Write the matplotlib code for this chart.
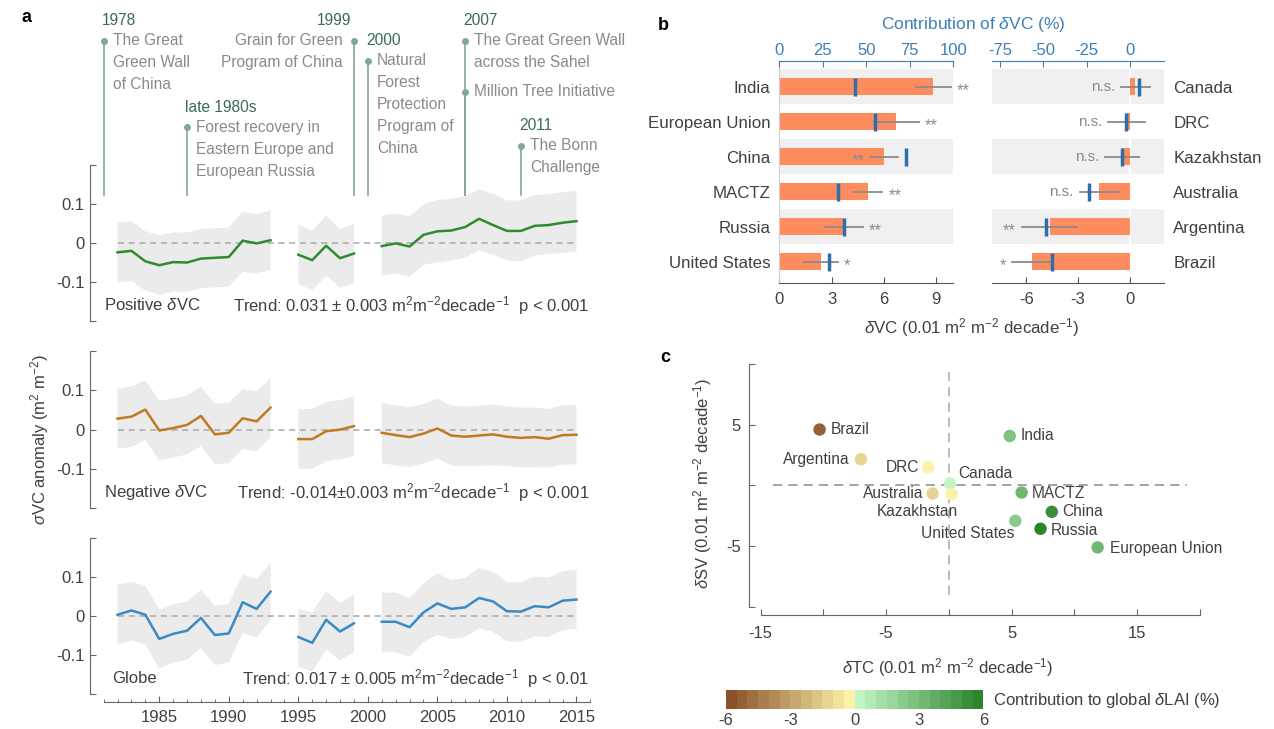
import numpy as np
import matplotlib
matplotlib.use('Agg')
import matplotlib.pyplot as plt
from matplotlib.colors import ListedColormap, BoundaryNorm, to_rgb
from matplotlib.cm import ScalarMappable
from matplotlib.ticker import MultipleLocator

plt.rcParams['font.family'] = ['Liberation Sans', 'DejaVu Sans']
plt.rcParams['mathtext.fontset'] = 'custom'
plt.rcParams['mathtext.rm'] = 'Liberation Sans'
plt.rcParams['mathtext.it'] = 'Liberation Sans:italic'
plt.rcParams['mathtext.bf'] = 'Liberation Sans:bold'
plt.rcParams['mathtext.sf'] = 'Liberation Sans'
plt.rcParams['axes.unicode_minus'] = False

nan = np.nan

# ---------------- data: panel a ----------------
years = [1982, 1983, 1984, 1985, 1986, 1987, 1988, 1989, 1990, 1991, 1992, 1993, 1994,
         1995, 1996, 1997, 1998, 1999, 2000, 2001, 2002, 2003, 2004, 2005, 2006, 2007,
         2008, 2009, 2010, 2011, 2012, 2013, 2014, 2015]

pos_vc = [-0.024, -0.020, -0.047, -0.057, -0.049, -0.050, -0.040, -0.038, -0.036, 0.006, -0.001, 0.007, nan,
          -0.030, -0.044, -0.007, -0.039, -0.027, nan, -0.008, -0.001, -0.009, 0.021, 0.030, 0.032, 0.041,
          0.062, 0.046, 0.031, 0.031, 0.044, 0.046, 0.052, 0.056]
pos_hi = [0.053, 0.056, 0.030, 0.020, 0.027, 0.027, 0.036, 0.038, 0.040, 0.080, 0.074, 0.083, nan,
          0.047, 0.032, 0.070, 0.036, 0.049, nan, 0.070, 0.076, 0.068, 0.100, 0.110, 0.113, 0.120,
          0.138, 0.126, 0.109, 0.109, 0.123, 0.126, 0.130, 0.134]
pos_lo = [-0.101, -0.097, -0.122, -0.132, -0.125, -0.125, -0.116, -0.114, -0.112, -0.074, -0.078, -0.069, nan,
          -0.105, -0.121, -0.084, -0.115, -0.103, nan, -0.084, -0.078, -0.086, -0.056, -0.050, -0.045, -0.038,
          -0.018, -0.030, -0.045, -0.047, -0.032, -0.028, -0.026, -0.022]

neg_vc = [0.028, 0.033, 0.051, -0.002, 0.004, 0.012, 0.035, -0.012, -0.008, 0.029, 0.021, 0.056, nan,
          -0.024, -0.024, -0.004, 0.000, 0.009, nan, -0.008, -0.014, -0.019, -0.010, 0.003, -0.015, -0.018,
          -0.015, -0.012, -0.018, -0.021, -0.019, -0.023, -0.014, -0.013]
neg_hi = [0.104, 0.110, 0.126, 0.074, 0.079, 0.087, 0.109, 0.066, 0.069, 0.103, 0.097, 0.131, nan,
          0.052, 0.053, 0.071, 0.075, 0.085, nan, 0.068, 0.062, 0.057, 0.065, 0.079, 0.061, 0.059,
          0.061, 0.064, 0.059, 0.056, 0.056, 0.053, 0.062, 0.063]
neg_lo = [-0.048, -0.044, -0.025, -0.078, -0.071, -0.063, -0.042, -0.088, -0.085, -0.049, -0.055, -0.020, nan,
          -0.100, -0.100, -0.080, -0.075, -0.067, nan, -0.085, -0.091, -0.095, -0.086, -0.074, -0.091, -0.093,
          -0.092, -0.090, -0.093, -0.096, -0.096, -0.097, -0.089, -0.088]

glob_vc = [0.004, 0.015, 0.004, -0.058, -0.045, -0.037, -0.004, -0.048, -0.044, 0.036, 0.019, 0.063, nan,
           -0.053, -0.068, -0.009, -0.039, -0.018, nan, -0.014, -0.014, -0.028, 0.010, 0.033, 0.019, 0.023,
           0.047, 0.038, 0.013, 0.012, 0.026, 0.023, 0.040, 0.043]
glob_hi = [0.081, 0.088, 0.079, 0.017, 0.031, 0.038, 0.068, 0.027, 0.032, 0.108, 0.095, 0.137, nan,
           0.020, 0.010, 0.065, 0.034, 0.057, nan, 0.061, 0.061, 0.047, 0.085, 0.110, 0.093, 0.099,
           0.124, 0.114, 0.088, 0.087, 0.102, 0.099, 0.116, 0.120]
glob_lo = [-0.072, -0.062, -0.072, -0.134, -0.119, -0.112, -0.081, -0.125, -0.119, -0.042, -0.055, -0.010, nan,
           -0.129, -0.142, -0.086, -0.113, -0.092, nan, -0.092, -0.092, -0.104, -0.066, -0.047, -0.058, -0.053,
           -0.031, -0.040, -0.064, -0.065, -0.051, -0.053, -0.036, -0.032]

series_names = ['Positive $\\delta$VC', 'Negative $\\delta$VC', 'Globe']
trend_texts = ['Trend: 0.031 $\\pm$ 0.003 m$^2$m$^{-2}$decade$^{-1}$  p < 0.001',
               'Trend: -0.014$\\pm$0.003 m$^2$m$^{-2}$decade$^{-1}$  p < 0.001',
               'Trend: 0.017 $\\pm$ 0.005 m$^2$m$^{-2}$decade$^{-1}$  p < 0.01']

# timeline of programmes
event_x = [1981, 1987, 1999, 2000, 2007, 2007, 2011]
event_year = ['1978', 'late 1980s', '1999', '2000', '2007', '', '2011']
event_text = [['The Great', 'Green Wall', 'of China'],
              ['Forest recovery in', 'Eastern Europe and', 'European Russia'],
              ['Grain for Green', 'Program of China'],
              ['Natural', 'Forest', 'Protection', 'Program of', 'China'],
              ['The Great Green Wall', 'across the Sahel'],
              ['Million Tree Initiative'],
              ['The Bonn', 'Challenge']]

# ---------------- data: panel b ----------------
b_left_names = ['India', 'European Union', 'China', 'MACTZ', 'Russia', 'United States']
b_left_vc = [8.86, 6.73, 6.04, 5.11, 3.70, 2.38]
b_left_err = [0.98, 1.30, 0.80, 0.82, 1.09, 0.98]
b_left_pct = [43.7, 55.2, 72.6, 33.5, 37.2, 28.7]
b_left_sig = ['**', '**', '**', '**', '**', '*']
b_left_sig_side = ['r', 'r', 'l', 'r', 'r', 'r']

b_right_names = ['Canada', 'DRC', 'Kazakhstan', 'Australia', 'Argentina', 'Brazil']
b_right_vc = [0.33, -0.19, -0.44, -1.77, -4.65, -5.67]
b_right_err = [0.82, 1.08, 0.98, 1.13, 1.59, 1.15]
b_right_pct = [5.2, -2.3, -4.6, -23.5, -48.6, -44.8]
b_right_sig = ['n.s.', 'n.s.', 'n.s.', 'n.s.', '**', '*']
b_right_sig_side = ['l', 'l', 'l', 'l', 'l', 'l']

# ---------------- data: panel c ----------------
c_names = ['Brazil', 'Argentina', 'DRC', 'Canada', 'Australia', 'Kazakhstan',
           'India', 'MACTZ', 'China', 'United States', 'Russia', 'European Union']
c_tc = [-10.3, -7.0, -1.65, 0.08, -1.3, 0.22, 4.85, 5.8, 8.2, 5.3, 7.3, 11.85]
c_sv = [4.6, 2.15, 1.47, 0.15, -0.67, -0.73, 4.07, -0.59, -2.18, -2.92, -3.58, -5.11]
c_lai = [-5.2, -1.3, -0.3, 0.2, -1.3, -0.2, 2.6, 3.2, 5.0, 2.0, 5.8, 3.2]
# label placement (pixel offsets, alignment)
c_lab_off = [(11, 0), (-11, 0), (-9, 0), (8, 10), (-9, 0), (-34, -17),
             (11, 0), (10, -1), (10, 0), (-48, -13), (10, -2), (12, -1)]
c_lab_ha = ['left', 'right', 'right', 'left', 'right', 'center',
            'left', 'left', 'left', 'center', 'left', 'left']

# ---------------- figure ----------------
W, H = 1274, 729
fig = plt.figure(figsize=(W / 100, H / 100), dpi=100)


def px_axes(x0, y0, x1, y1):
    return fig.add_axes([x0 / W, 1 - y1 / H, (x1 - x0) / W, (y1 - y0) / H])


txt_c = '#404040'
spine_c = '#666666'
band_c = '#ebebeb'

# ---- panel a ----
vals = [(pos_vc, pos_lo, pos_hi, '#2e8b2e'),
        (neg_vc, neg_lo, neg_hi, '#c17a1f'),
        (glob_vc, glob_lo, glob_hi, '#3a8ac6')]
a_rows = [(165, 321), (351, 508.3), (538.3, 694.3)]
name_x = [1981.05, 1981.05, 1981.6]
for k, (vc, lo, hi, col) in enumerate(vals):
    ax = px_axes(103.6, a_rows[k][0], 590.4, a_rows[k][1])
    ax.set_xlim(1981, 2016)
    ax.set_ylim(-0.2, 0.2)
    ax.fill_between(years, lo, hi, color=band_c, lw=0)
    ax.plot([years[0], years[-1]], [0, 0], color='#a8a8a8', lw=1.1, dashes=(4, 3))
    ax.plot(years, vc, color=col, lw=1.8)
    ax.spines['top'].set_visible(False)
    ax.spines['right'].set_visible(False)
    ax.spines['left'].set_position(('outward', 9.5))
    ax.spines['left'].set_color(spine_c)
    ax.set_yticks([-0.2, -0.1, 0, 0.1, 0.2])
    ax.set_yticklabels(['', '-0.1', '0', '0.1', ''])
    ax.tick_params(axis='y', direction='in', length=4, color=spine_c,
                   labelsize=12, labelcolor=txt_c, pad=4)
    ax.text(name_x[k], -0.16, series_names[k], fontsize=12, color=txt_c, va='center')
    ax.text(2015.9, -0.16, trend_texts[k], fontsize=12, color=txt_c, va='center', ha='right')
    if k < 2:
        ax.spines['bottom'].set_visible(False)
        ax.tick_params(axis='x', which='both', bottom=False, labelbottom=False)
    else:
        ax.spines['bottom'].set_position(('outward', 5.3))
        ax.spines['bottom'].set_color(spine_c)
        ax.set_xticks([1985, 1990, 1995, 2000, 2005, 2010, 2015])
        ax.xaxis.set_minor_locator(MultipleLocator(1))
        ax.tick_params(axis='x', which='major', direction='in', length=4, color=spine_c,
                       labelsize=12, labelcolor=txt_c, pad=6)
        ax.tick_params(axis='x', which='minor', direction='in', length=2, color=spine_c)

fig.text(40 / W, 1 - 440 / H, '$\\sigma$VC anomaly (m$^2$ m$^{-2}$)', rotation=90,
         ha='center', va='center', fontsize=12, color=txt_c)

# timeline overlay
axt = px_axes(103.6, 0, 590.4, 195)
axt.set_xlim(1981, 2016)
axt.set_ylim(195, 0)
axt.axis('off')
ev_label_y = [20.7, 107.3, 20.7, 40.7, 20.7, None, 126]
ev_dot_y = [40.7, 127.3, 40.7, 60.7, 40.7, 91.7, 146]
ev_side = ['r', 'r', 'l', 'r', 'r', 'r', 'r']
line_c = '#7fa89a'
for x, yr, lines, ly, dy, side in zip(event_x, event_year, event_text, ev_label_y, ev_dot_y, ev_side):
    axt.plot([x, x], [dy, 195], color=line_c, lw=1.2, clip_on=False)
    axt.plot([x], [dy], 'o', color=line_c, ms=4, clip_on=False)
    if yr:
        axt.annotate(yr, (x, ly), xytext=(-2 if side == 'r' else -3, 0), textcoords='offset pixels',
                     ha='left' if side == 'r' else 'right', va='center', fontsize=11.2,
                     color='#3b6a58', annotation_clip=False)
    for j, line in enumerate(lines):
        axt.annotate(line, (x, dy + j * 21.9), xytext=(9 if side == 'r' else -11, 0),
                     textcoords='offset pixels', ha='left' if side == 'r' else 'right',
                     va='center', fontsize=11.2, color='#8a8a8a', annotation_clip=False)

# ---- panel b ----
bar_c = '#ff8c5e'
mark_c = '#2f6ea8'
top_c = '#3f7fb6'
err_c = '#8a8a8a'


def draw_b(box, names, vc, err, pct, sig, side, xlim, top_xlim, xticks, top_ticks, right):
    ax = px_axes(*box)
    rows = list(range(len(names)))
    ax.set_xlim(*xlim)
    ax.set_ylim(5.62, -0.74)
    for r in rows[::2]:
        ax.axhspan(r - 0.5, r + 0.5, color='#f0f0f0', lw=0, zorder=0.5)
    if right:
        ax.axvline(0, color='white', lw=1.5, zorder=1)
    ax.barh(rows, vc, height=0.5, color=bar_c, zorder=2)
    for r, v, e, s, sd in zip(rows, vc, err, sig, side):
        ax.plot([v - e, v + e], [r, r], color=err_c, lw=1.3, zorder=3)
        dy = -4 if '*' in s else 0
        fs = 12 if '*' in s else 11
        if sd == 'r':
            ax.annotate(s, (v + e, r), xytext=(6, dy), textcoords='offset pixels',
                        ha='left', va='center', color=err_c, fontsize=fs, zorder=4)
        else:
            ax.annotate(s, (v - e, r), xytext=(-6, dy), textcoords='offset pixels',
                        ha='right', va='center', color=err_c, fontsize=fs, zorder=4)
    ax.set_yticks(rows)
    ax.set_yticklabels(names)
    if right:
        ax.yaxis.tick_right()
    ax.tick_params(axis='y', length=0, labelsize=12.2, labelcolor=txt_c, pad=6.5)
    ax.set_xticks(xticks)
    ax.tick_params(axis='x', direction='in', length=4, color='#555555',
                   labelsize=12, labelcolor=txt_c, pad=6)
    ax.spines['top'].set_visible(False)
    ax.spines['right'].set_visible(False)
    if right:
        ax.spines['left'].set_visible(False)
    else:
        ax.spines['left'].set_color('#cfcfcf')
    ax.spines['bottom'].set_color('#555555')

    axt2 = ax.twiny()
    axt2.set_xlim(*top_xlim)
    axt2.plot(pct, rows, ls='none', marker='|', ms=13.5, mew=2.5, color=mark_c, zorder=5)
    axt2.set_xticks(top_ticks)
    axt2.tick_params(axis='x', direction='in', length=4, color=top_c,
                     labelsize=12, labelcolor=top_c, pad=2)
    for s in ['bottom', 'left', 'right']:
        axt2.spines[s].set_visible(False)
    axt2.spines['top'].set_color(top_c)
    return ax


draw_b((779.3, 60.7, 953.3, 283.3), b_left_names, b_left_vc, b_left_err, b_left_pct,
       b_left_sig, b_left_sig_side, (0, 10), (0, 100), [0, 3, 6, 9], [0, 25, 50, 75, 100], False)
draw_b((991.7, 60.7, 1164.3, 283.3), b_right_names, b_right_vc, b_right_err, b_right_pct,
       b_right_sig, b_right_sig_side, (-8, 2), (-80, 20), [-6, -3, 0], [-75, -50, -25, 0], True)

fig.text(973 / W, 1 - 24 / H, 'Contribution of $\\delta$VC (%)', ha='center', va='center',
         fontsize=12.5, color=top_c)
fig.text(972 / W, 1 - 328 / H, '$\\delta$VC (0.01 m$^2$ m$^{-2}$ decade$^{-1}$)', ha='center',
         va='center', fontsize=12.2, color=txt_c)

# ---- panel c ----
brown = np.array([to_rgb('#8b512b'), to_rgb('#fbf1a8')])
green = np.array([to_rgb('#c1f5c3'), to_rgb('#2c842c')])
t = np.linspace(0, 1, 12)[:, None]
cols = np.vstack([brown[0] * (1 - t) + brown[1] * t, green[0] * (1 - t) + green[1] * t])
cmap = ListedColormap(cols)
norm = BoundaryNorm(np.linspace(-6, 6, 25), cmap.N)

axc = px_axes(760.6, 364, 1199.9, 606.7)
axc.set_xlim(-15, 20)
axc.set_ylim(-10, 10)
axc.plot([-14, 19], [0, 0], color='#8a8a8a', lw=1.1, dashes=(6, 4), zorder=1)
axc.plot([0, 0], [-9, 9.7], color='#a8a8a8', lw=1.1, dashes=(6, 4), zorder=1)
axc.scatter(c_tc, c_sv, c=c_lai, cmap=cmap, norm=norm, s=80, lw=0, zorder=3)
for n, x, y, off, ha in zip(c_names, c_tc, c_sv, c_lab_off, c_lab_ha):
    axc.annotate(n, (x, y), xytext=off, textcoords='offset pixels', ha=ha, va='center',
                 fontsize=11.2, color=txt_c, zorder=4)
axc.spines['top'].set_visible(False)
axc.spines['right'].set_visible(False)
axc.spines['left'].set_position(('outward', 8.2))
axc.spines['bottom'].set_position(('outward', 6.0))
axc.spines['left'].set_color(spine_c)
axc.spines['bottom'].set_color(spine_c)
axc.set_xticks([-15, -10, -5, 0, 5, 10, 15, 20])
axc.set_xticklabels(['-15', '', '-5', '', '5', '', '15', ''])
axc.set_yticks([-10, -5, 0, 5, 10])
axc.set_yticklabels(['', '-5', '', '5', ''])
axc.tick_params(direction='in', length=4, color=spine_c, labelsize=12, labelcolor=txt_c)
axc.tick_params(axis='x', pad=8)
axc.tick_params(axis='y', pad=6)

fig.text(947.6 / W, 1 - 668 / H, '$\\delta$TC (0.01 m$^2$ m$^{-2}$ decade$^{-1}$)', ha='center',
         va='center', fontsize=12, color=txt_c)
fig.text(702.5 / W, 1 - 483.3 / H, '$\\delta$SV (0.01 m$^2$ m$^{-2}$ decade$^{-1}$)', rotation=90,
         ha='center', va='center', fontsize=12, color=txt_c)

cax = px_axes(726, 690, 983.3, 709)
cb = fig.colorbar(ScalarMappable(norm=norm, cmap=cmap), cax=cax, orientation='horizontal',
                  ticks=[-6, -3, 0, 3, 6])
cb.outline.set_visible(False)
cb.ax.minorticks_off()
cb.ax.set_xticklabels(['-6', '-3', '0', '3', '6'])
cb.ax.tick_params(which='both', length=0, labelsize=12, labelcolor=txt_c, pad=3)
fig.text(993 / W, 1 - 700 / H, 'Contribution to global $\\delta$LAI (%)', ha='left', va='center',
         fontsize=12, color=txt_c)

# panel letters
fig.text(22 / W, 1 - 18 / H, 'a', fontsize=13, fontweight='bold', ha='left', va='center')
fig.text(658 / W, 1 - 25 / H, 'b', fontsize=13, fontweight='bold', ha='left', va='center')
fig.text(660 / W, 1 - 357 / H, 'c', fontsize=13, fontweight='bold', ha='left', va='center')

fig.savefig('out.png', dpi=100)
